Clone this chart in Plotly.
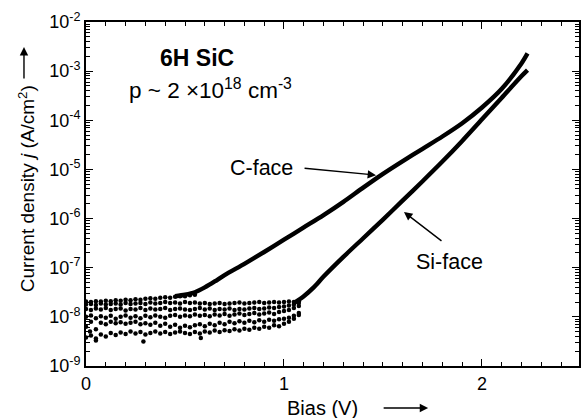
import plotly.graph_objects as go

# ---------------- data ----------------
# smooth forward-bias branches: bias (V) and log10 of current density (A/cm^2)
cface_bias = [0.45, 0.50, 0.55, 0.60, 0.65, 0.70, 0.80, 0.90, 1.00, 1.10, 1.20,
              1.30, 1.40, 1.50, 1.60, 1.70, 1.80, 1.90, 2.00, 2.10, 2.20, 2.23]
cface_logj = [-7.58, -7.55, -7.50, -7.40, -7.28, -7.15, -6.92, -6.68, -6.43, -6.18, -5.93,
              -5.66, -5.37, -5.09, -4.83, -4.58, -4.33, -4.06, -3.74, -3.36, -2.84, -2.64]

si_bias = [1.05, 1.10, 1.15, 1.20, 1.30, 1.40, 1.50, 1.60, 1.70, 1.80, 1.90, 2.00, 2.10, 2.20, 2.23]
si_logj = [-7.72, -7.58, -7.40, -7.18, -6.78, -6.40, -6.02, -5.63, -5.24, -4.84, -4.42, -3.98, -3.54, -3.10, -2.98]

# noisy low-bias measurement rows (dots)
dot_bias = [0.000, 0.025, 0.050, 0.075, 0.100, 0.125, 0.150, 0.175, 0.200, 0.225, 0.250,
            0.275, 0.300, 0.325, 0.350, 0.375, 0.400, 0.425, 0.450, 0.475, 0.500, 0.525,
            0.550, 0.575, 0.600, 0.625, 0.650, 0.675, 0.700, 0.725, 0.750, 0.775, 0.800,
            0.825, 0.850, 0.875, 0.900, 0.925, 0.950, 0.975, 1.000, 1.025, 1.050, 1.075]
row_a_logj = [-7.69, -7.70, -7.68, -7.69, -7.67, -7.68, -7.66, -7.67, -7.65, -7.66, -7.64,
              -7.65, -7.63, -7.62, -7.63, -7.61, -7.60, -7.61, -7.59, -7.58, -7.58, -7.56, -7.55]
row_b_logj = [-7.75, -7.74, -7.76, -7.73, -7.75, -7.74, -7.73, -7.75, -7.72, -7.74, -7.73,
              -7.72, -7.74, -7.71, -7.73, -7.72, -7.70, -7.72, -7.71, -7.73, -7.70, -7.72,
              -7.71, -7.73, -7.72, -7.74, -7.73, -7.72, -7.74, -7.73, -7.72, -7.71, -7.73,
              -7.72, -7.71, -7.70, -7.72, -7.71, -7.70, -7.71, -7.70, -7.69, -7.70, -7.68]
row_c_logj = [-7.84, -7.86, -7.83, -7.85, -7.82, -7.86, -7.84, -7.83, -7.87, -7.84, -7.85,
              -7.82, -7.86, -7.83, -7.85, -7.84, -7.82, -7.86, -7.84, -7.83, -7.85, -7.86,
              -7.84, -7.82, -7.85, -7.83, -7.86, -7.84, -7.85, -7.83, -7.86, -7.84, -7.85,
              -7.83, -7.82, -7.84, -7.83, -7.81, -7.82, -7.80, -7.79, -7.77, -7.75, -7.72]
row_d_logj = [-8.00, -7.97, -8.03, -7.99, -8.02, -7.98, -8.04, -8.00, -7.97, -8.02, -7.99,
              -8.03, -7.98, -8.01, -7.97, -8.00, -8.02, -7.98, -7.96, -8.00, -7.97, -7.99,
              -7.95, -7.98, -7.96, -7.99, -7.95, -7.97, -7.94, -7.98, -7.95, -7.93, -7.96,
              -7.94, -7.92, -7.95, -7.93, -7.91, -7.94, -7.90, -7.88, -7.86, -7.82, -7.78]
row_e_logj = [-8.20, -8.10, -8.25, -8.12, -8.15, -8.10, -8.13, -8.11, -8.14, -8.12, -8.10,
              -8.15, -8.13, -8.16, -8.12, -8.18, -8.14, -8.20, -8.16, -8.22, -8.18, -8.21,
              -8.17, -8.15, -8.19, -8.14, -8.17, -8.12, -8.15, -8.10, -8.13, -8.09, -8.12,
              -8.08, -8.11, -8.07, -8.10, -8.06, -8.08, -8.05, -8.04, -8.02, -7.98, -7.92]
row_f_logj = [-8.42, -8.38, -8.44, -8.36, -8.40, -8.33, -8.37, -8.32, -8.35, -8.30, -8.34,
              -8.31, -8.36, -8.33, -8.30, -8.34, -8.31, -8.35, -8.32, -8.30, -8.33, -8.35,
              -8.31, -8.34, -8.30, -8.32, -8.28, -8.31, -8.27, -8.29, -8.25, -8.28, -8.24,
              -8.26, -8.22, -8.24, -8.20, -8.22, -8.17, -8.19, -8.14, -8.10, -8.04, -7.96]
outlier_bias = [0.02, 0.05, 0.29, 0.58]
outlier_logj = [-8.30, -8.48, -8.50, -8.43]

x_tick_vals = [0, 1, 2]
x_tick_text = ["0", "1", "2"]
y_tick_exp = [-9, -8, -7, -6, -5, -4, -3, -2]
y_tick_text = ["10<sup>%d</sup>" % e for e in y_tick_exp]

# ---------------- figure ----------------
FONT = "Liberation Sans, Arial, Helvetica, sans-serif"
fig = go.Figure()

dot_rows = [
    (dot_bias[:len(row_a_logj)], row_a_logj),
    (dot_bias, row_b_logj),
    (dot_bias, row_c_logj),
    (dot_bias, row_d_logj),
    (dot_bias, row_e_logj),
    (dot_bias, row_f_logj),
    (outlier_bias, outlier_logj),
]
for xs, ls in dot_rows:
    fig.add_trace(go.Scatter(x=xs, y=[10 ** v for v in ls], mode="markers",
                             marker=dict(color="black", size=4.5, line=dict(width=0)),
                             showlegend=False, hoverinfo="skip"))

for xs, ls in [(cface_bias, cface_logj), (si_bias, si_logj)]:
    fig.add_trace(go.Scatter(x=xs, y=[10 ** v for v in ls], mode="lines",
                             line=dict(color="black", width=4.4, shape="spline", smoothing=0.8),
                             showlegend=False, hoverinfo="skip"))

axis_common = dict(showline=True, linecolor="black", linewidth=2, mirror="allticks",
                   ticks="inside", tickcolor="black", tickwidth=1.3, ticklen=7,
                   showgrid=False, zeroline=False, automargin=False,
                   tickfont=dict(family=FONT, size=18, color="black"))

y_minor = [k * 10.0 ** e for e in range(-9, -2) for k in range(2, 10)]

fig.update_xaxes(range=[0, 2.49], tickvals=x_tick_vals, ticktext=x_tick_text,
                 minor=dict(dtick=0.1, ticks="inside", ticklen=4, tickwidth=1.2, tickcolor="black"),
                 **axis_common)
fig.update_yaxes(type="log", range=[-9, -2], tickvals=[10.0 ** e for e in y_tick_exp],
                 ticktext=y_tick_text,
                 minor=dict(tickvals=y_minor, ticks="inside", ticklen=4, tickwidth=1.2, tickcolor="black"),
                 **axis_common)

ann = []
txt = dict(family=FONT, color="black")
mid = dict(xanchor="center", yanchor="middle", showarrow=False)
# text labels
ann.append(dict(x=0.561, y=-2.738, xref="x", yref="y", text="<b>6H SiC</b>",
                font=dict(size=23, **txt), **mid))
ann.append(dict(x=0.63, y=-3.37, xref="x", yref="y",
                text="p ~ 2 ×10<sup>18</sup> cm<sup>-3</sup>",
                font=dict(size=22.5, **txt), **mid))
ann.append(dict(x=0.884, y=-4.974, xref="x", yref="y", text="C-face",
                font=dict(size=21.5, **txt), **mid))
ann.append(dict(x=1.838, y=-6.884, xref="x", yref="y", text="Si-face",
                font=dict(size=21.5, **txt), **mid))
# pointer arrows
arrow = dict(text="", showarrow=True, arrowhead=2, arrowsize=1.2, arrowwidth=1.4,
             arrowcolor="black", standoff=0, startstandoff=0)
ann.append(dict(x=1.465, y=-5.116, xref="x", yref="y", ax=-73, ay=-7, **arrow))
ann.append(dict(x=1.606, y=-5.868, xref="x", yref="y", ax=39, ay=30, **arrow))
# axis titles
ann.append(dict(x=0.479, y=-0.122, xref="paper", yref="paper", text="Bias (V)",
                font=dict(size=20, **txt), **mid))
ann.append(dict(x=0.694, y=-0.122, xref="paper", yref="paper", ax=-46, ay=0, **arrow))
ann.append(dict(x=-0.121, y=0.515, xref="paper", yref="paper", textangle=-90,
                text="Current density <i>j</i> (A/cm<sup>2</sup>)",
                font=dict(size=19, **txt), **mid))
ann.append(dict(x=-0.1258, y=0.927, xref="paper", yref="paper", ax=0, ay=33, **arrow))

fig.update_layout(width=581, height=418, margin=dict(l=86, r=2, t=22, b=52, autoexpand=False),
                  paper_bgcolor="white", plot_bgcolor="white", annotations=ann,
                  font=dict(family=FONT, color="black"))

fig.write_html("out.html", config={"displayModeBar": False},
               post_script="document.body.style.margin='0';document.body.style.overflow='hidden';")
